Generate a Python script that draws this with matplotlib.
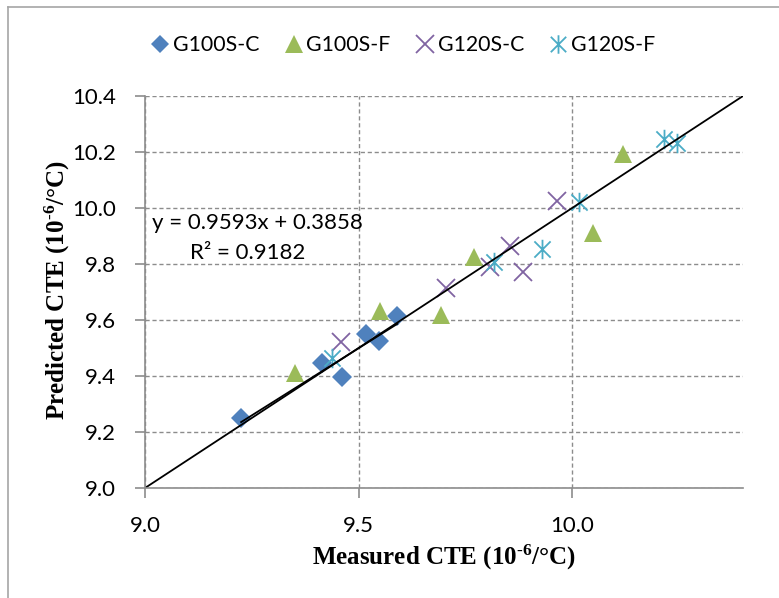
import numpy as np
import matplotlib
matplotlib.use("Agg")
import matplotlib.pyplot as plt
from matplotlib.path import Path
from matplotlib.lines import Line2D

plt.rcParams['mathtext.fontset'] = 'custom'
plt.rcParams['mathtext.rm'] = 'Liberation Serif:bold'
plt.rcParams['mathtext.bf'] = 'Liberation Serif:bold'
plt.rcParams['mathtext.it'] = 'Liberation Serif:bold'

# ---- data ----
series_names = ["G100S-C", "G100S-F", "G120S-C", "G120S-F"]
g100c_x = [9.225, 9.415, 9.462, 9.518, 9.548, 9.591]
g100c_y = [9.249, 9.448, 9.395, 9.549, 9.526, 9.614]
g100f_x = [9.352, 9.550, 9.694, 9.771, 10.049, 10.119]
g100f_y = [9.411, 9.633, 9.618, 9.824, 9.912, 10.192]
g120c_x = [9.458, 9.704, 9.808, 9.855, 9.884, 9.965]
g120c_y = [9.523, 9.713, 9.790, 9.864, 9.773, 10.026]
g120f_x = [9.438, 9.818, 9.929, 10.017, 10.215, 10.246]
g120f_y = [9.463, 9.808, 9.853, 10.022, 10.245, 10.231]
trend_slope = 0.9593
trend_intercept = 0.3858
r_squared = 0.9182
x_ticks = [9.0, 9.5, 10.0]
y_ticks = [9.0, 9.2, 9.4, 9.6, 9.8, 10.0, 10.2, 10.4]
axis_min, axis_max = 9.0, 10.4

colors = ["#4F81BD", "#9BBB59", "#8064A2", "#4BACC6"]

star = Path([(-1, -1), (1, 1), (-1, 1), (1, -1), (0, -1.2), (0, 1.2)],
            [Path.MOVETO, Path.LINETO, Path.MOVETO, Path.LINETO, Path.MOVETO, Path.LINETO])

fig = plt.figure(figsize=(7.79, 5.98), dpi=100)
ax = fig.add_axes([145/779, 1-488/598, (743-145)/779, (488-96)/598])

ax.set_xlim(axis_min, axis_max)
ax.set_ylim(axis_min, axis_max)

h1, = ax.plot(g100c_x, g100c_y, linestyle='none', marker='D', markersize=10,
              color=colors[0], markeredgewidth=0, label=series_names[0], zorder=3)
h2, = ax.plot(g100f_x, g100f_y, linestyle='none', marker='^', markersize=13.5,
              color=colors[1], markeredgewidth=0, label=series_names[1], zorder=3)
h3, = ax.plot(g120c_x, g120c_y, linestyle='none', marker='x', markersize=13,
              color=colors[2], markeredgewidth=1.3, label=series_names[2], zorder=3)
h4, = ax.plot(g120f_x, g120f_y, linestyle='none', marker=star, markersize=14,
              color=colors[3], markeredgewidth=1.3, label=series_names[3], zorder=3)

# diagonal y = x
ax.plot([axis_min, axis_max], [axis_min, axis_max], color='black', lw=1.3, zorder=4)
# trendline over G100S-C range
tx = np.array([min(g100c_x), max(g100c_x)])
ax.plot(tx, trend_slope*tx + trend_intercept, color='black', lw=1.3, zorder=4)

ax.set_xticks(x_ticks)
ax.set_yticks(y_ticks)
ax.set_xticklabels([f"{v:.1f}" for v in x_ticks])
ax.set_yticklabels([f"{v:.1f}" for v in y_ticks])

gcol = '#8c8c8c'
ax.grid(True, color=gcol, linestyle=(0, (3, 2)), linewidth=1.0)
ax.set_axisbelow(True)
for s in ['top', 'right']:
    ax.spines[s].set_visible(False)
for s in ['left', 'bottom']:
    ax.spines[s].set_color(gcol)
    ax.spines[s].set_linewidth(1.2)
    ax.spines[s].set_zorder(5)

ax.tick_params(axis='both', direction='out', length=7, width=1.2, color=gcol,
               labelsize=16)
ax.tick_params(axis='y', pad=14)
ax.tick_params(axis='x', pad=13)
for lab in ax.get_xticklabels() + ax.get_yticklabels():
    lab.set_fontfamily('Lato')

ax.set_xlabel(r'Measured CTE (10$^{\text{-6}}$/°C)', fontsize=18, fontfamily='Liberation Serif',
              fontweight='bold')
ax.set_ylabel(r'Predicted CTE (10$^{\text{-6}}$/°C)', fontsize=18, fontfamily='Liberation Serif',
              fontweight='bold')
ax.xaxis.set_label_coords((444-145)/598, (488-557)/392)
ax.xaxis.label.set_verticalalignment('center')
ax.yaxis.set_label_coords((57-145)/598, (488-290)/392)
ax.yaxis.label.set_verticalalignment('center')

ax.text(0.012, (488-223)/392, f"y = {trend_slope}x + {trend_intercept}", transform=ax.transAxes,
        fontsize=16, fontfamily='Lato', ha='left', va='center')
ax.text((190-145)/598, (488-253)/392, f"R² = {r_squared}", transform=ax.transAxes,
        fontsize=16, fontfamily='Lato', ha='left', va='center')

leg = fig.legend(handles=[h1, h2, h3, h4], loc='center', bbox_to_anchor=(404/779, 1-45/598),
                 ncol=4, frameon=False, prop={'family': 'Lato', 'size': 15.3},
                 handlelength=0.7, handletextpad=0.26, columnspacing=1.25, markerscale=0.95)

# chart border
fig.add_artist(Line2D([8/779, 1], [1-7/598, 1-7/598], color='#a6a6a6', lw=1.2,
                      transform=fig.transFigure))
fig.add_artist(Line2D([8/779, 8/779], [0, 1-7/598], color='#a6a6a6', lw=1.2,
                      transform=fig.transFigure))

fig.savefig("out.png", dpi=100)
